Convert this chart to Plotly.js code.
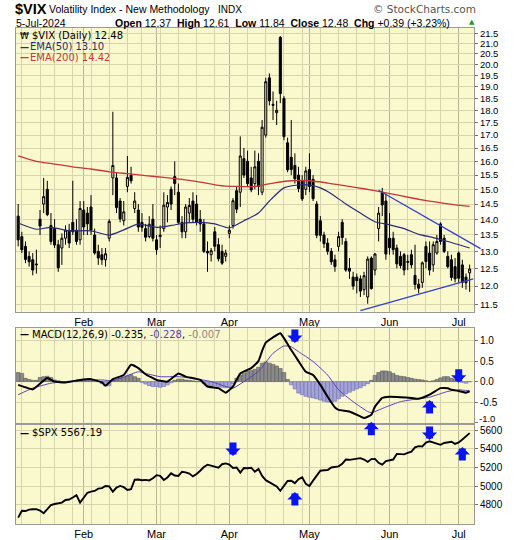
<!DOCTYPE html>
<html><head><meta charset="utf-8">
<script src="https://cdn.plot.ly/plotly-3.0.1.min.js"></script>
<style>html,body{margin:0;padding:0;background:#fff;}#chart{width:520px;height:540px;}</style>
</head><body><div id="chart"></div>
<script>
// ---------- DATA ----------
const dates = ['2024-01-05','2024-01-08','2024-01-09','2024-01-10','2024-01-11','2024-01-12','2024-01-16','2024-01-17','2024-01-18','2024-01-19',
'2024-01-22','2024-01-23','2024-01-24','2024-01-25','2024-01-26','2024-01-29','2024-01-30','2024-01-31','2024-02-01','2024-02-02',
'2024-02-05','2024-02-06','2024-02-07','2024-02-08','2024-02-09','2024-02-12','2024-02-13','2024-02-14','2024-02-15','2024-02-16',
'2024-02-20','2024-02-21','2024-02-22','2024-02-23','2024-02-26','2024-02-27','2024-02-28','2024-02-29','2024-03-01','2024-03-04',
'2024-03-05','2024-03-06','2024-03-07','2024-03-08','2024-03-11','2024-03-12','2024-03-13','2024-03-14','2024-03-15','2024-03-18',
'2024-03-19','2024-03-20','2024-03-21','2024-03-22','2024-03-25','2024-03-26','2024-03-27','2024-03-28','2024-04-01','2024-04-02',
'2024-04-03','2024-04-04','2024-04-05','2024-04-08','2024-04-09','2024-04-10','2024-04-11','2024-04-12','2024-04-15','2024-04-16',
'2024-04-17','2024-04-18','2024-04-19','2024-04-22','2024-04-23','2024-04-24','2024-04-25','2024-04-26','2024-04-29','2024-04-30',
'2024-05-01','2024-05-02','2024-05-03','2024-05-06','2024-05-07','2024-05-08','2024-05-09','2024-05-10','2024-05-13','2024-05-14',
'2024-05-15','2024-05-16','2024-05-17','2024-05-20','2024-05-21','2024-05-22','2024-05-23','2024-05-24','2024-05-28','2024-05-29',
'2024-05-30','2024-05-31','2024-06-03','2024-06-04','2024-06-05','2024-06-06','2024-06-07','2024-06-10','2024-06-11','2024-06-12',
'2024-06-13','2024-06-14','2024-06-17','2024-06-18','2024-06-20','2024-06-21','2024-06-24','2024-06-25','2024-06-26','2024-06-27',
'2024-06-28','2024-07-01','2024-07-02','2024-07-03','2024-07-05'];

const vixOpen = [14.10,13.45,13.15,12.85,12.75,12.60,14.00,14.50,15.00,13.80,
13.70,13.20,13.10,13.40,13.65,13.90,13.65,13.35,14.30,14.20,
14.40,13.50,13.00,12.90,12.75,13.40,15.40,15.40,14.60,13.95,
15.10,15.50,14.35,14.30,13.90,13.70,13.45,14.00,13.35,13.45,
13.70,14.40,15.00,15.45,14.90,13.90,13.60,14.20,14.60,14.50,
14.00,13.85,13.00,12.90,13.60,13.20,13.00,12.85,13.55,13.80,
14.95,14.90,16.10,16.00,15.40,15.20,16.00,14.90,17.00,19.40,
18.25,17.90,21.30,18.50,16.70,16.15,15.85,15.50,15.30,15.00,
15.70,15.35,14.50,13.95,13.50,13.25,13.00,12.75,13.15,13.90,
13.30,12.50,12.25,12.25,12.20,11.90,11.70,12.80,12.45,13.70,
14.90,14.60,13.40,13.40,13.10,12.85,12.90,12.70,12.90,12.30,
12.05,12.10,13.15,12.95,12.60,12.95,13.85,13.40,12.85,12.75,
12.55,12.95,12.60,12.25,12.37];
const vixHigh = [14.50,13.60,13.30,13.00,12.95,13.05,14.30,15.40,15.30,14.20,
14.00,13.35,13.55,13.80,13.85,15.30,14.00,14.60,14.60,14.40,
14.80,13.70,13.20,13.10,13.10,14.00,17.94,15.60,14.70,14.60,
16.20,15.80,14.90,14.50,14.20,13.85,14.10,14.50,13.50,13.80,
14.90,14.80,15.10,16.00,15.20,14.10,14.50,14.70,14.90,14.80,
14.30,14.00,13.30,13.10,13.75,13.40,13.20,13.05,13.80,14.70,
15.10,16.95,16.50,16.40,15.80,16.40,16.30,17.60,19.40,19.60,
18.80,18.40,21.36,18.60,16.90,17.60,16.30,15.80,15.50,15.80,
16.30,15.50,14.60,14.10,13.60,13.40,13.10,12.90,13.60,14.00,
13.40,12.80,12.40,12.35,12.30,12.40,12.85,12.85,12.95,14.40,
15.05,14.85,14.20,13.60,13.20,13.00,12.95,12.90,13.05,13.20,
12.20,12.70,13.30,13.30,13.30,13.50,13.90,13.50,13.00,12.90,
12.80,13.00,12.75,12.35,12.61];
const vixLow = [13.15,12.95,12.65,12.55,12.30,12.35,13.50,14.20,14.10,13.20,
13.10,12.40,12.60,13.20,13.10,13.50,13.20,13.20,13.50,13.50,
13.50,12.90,12.60,12.60,12.55,13.30,14.80,14.20,13.90,13.80,
14.90,15.20,14.20,13.60,13.60,13.30,13.40,13.30,12.90,13.10,
13.60,13.90,14.30,14.80,13.85,13.40,13.40,13.90,13.90,13.80,
13.60,12.95,12.40,12.70,13.00,12.70,12.60,12.70,13.40,13.70,
14.20,14.40,15.40,15.10,14.90,15.00,14.80,14.80,16.90,18.20,
17.60,17.40,18.30,16.80,15.60,15.50,15.20,14.90,14.60,14.80,
14.90,14.60,13.40,13.30,13.10,12.90,12.60,12.40,13.00,13.20,
12.40,12.20,11.90,11.80,11.70,11.75,11.52,11.90,12.30,13.30,
14.10,12.75,12.90,12.90,12.50,12.50,12.30,12.45,12.50,11.90,
11.80,11.95,12.50,12.30,12.40,12.90,13.20,12.95,12.50,12.15,
12.10,12.10,11.95,11.90,11.84];
const vixClose = [13.35,13.05,12.76,12.69,12.45,12.62,13.78,14.75,14.15,13.30,
13.19,12.52,13.40,13.65,13.25,13.60,13.30,14.35,13.75,13.85,
13.65,12.95,12.80,12.75,12.93,13.93,15.85,14.38,14.01,14.24,
15.42,15.30,14.60,13.75,13.74,13.43,13.84,13.40,13.05,13.49,
14.46,14.55,14.50,15.20,13.90,13.60,14.40,14.45,14.00,13.90,
13.85,13.00,12.95,13.02,13.15,12.78,12.65,12.95,13.65,14.61,
14.33,16.20,15.50,15.20,14.98,15.80,15.10,17.31,19.23,18.40,
18.21,18.00,18.71,16.94,15.69,15.70,15.37,15.03,14.67,15.65,
15.10,14.68,13.49,13.49,13.23,13.00,12.69,12.55,13.45,13.42,
12.45,12.42,12.00,12.15,11.86,12.29,12.77,11.93,12.92,14.20,
14.47,12.92,13.11,13.05,12.63,12.58,12.45,12.68,12.60,12.04,
11.94,12.66,12.70,12.45,13.20,13.30,13.30,13.00,12.55,12.24,
12.20,12.22,12.10,12.09,12.48];

const ema50Dates = ['2024-01-05','2024-01-12','2024-01-19','2024-01-26','2024-02-05','2024-02-12','2024-02-16','2024-02-23','2024-03-01','2024-03-07',
'2024-03-13','2024-03-19','2024-03-25','2024-04-01','2024-04-05','2024-04-11','2024-04-16','2024-04-22','2024-04-26','2024-05-01',
'2024-05-06','2024-05-09','2024-05-15','2024-05-21','2024-05-28','2024-06-03','2024-06-07','2024-06-13','2024-06-20','2024-06-26','2024-07-05'];
const ema50Vals = [13.88,13.68,13.74,13.63,13.63,13.50,13.66,13.84,13.74,13.80,
13.88,13.90,13.85,13.72,13.95,14.20,14.60,15.05,15.15,15.15,
15.05,14.85,14.50,14.20,13.92,13.82,13.70,13.52,13.42,13.30,13.10];

const ema200Dates = ['2024-01-05','2024-01-12','2024-01-22','2024-01-29','2024-02-05','2024-02-12','2024-02-20','2024-02-27','2024-03-05','2024-03-12',
'2024-03-19','2024-03-26','2024-04-03','2024-04-10','2024-04-17','2024-04-24','2024-05-01','2024-05-08','2024-05-15','2024-05-22',
'2024-05-30','2024-06-06','2024-06-13','2024-06-21','2024-06-28','2024-07-05'];
const ema200Vals = [16.20,16.00,15.90,15.80,15.72,15.62,15.55,15.48,15.42,15.35,
15.25,15.14,15.10,15.10,15.22,15.30,15.30,15.22,15.12,15.02,
14.90,14.78,14.66,14.56,14.47,14.42];

const macdDates = ['2024-01-05','2024-01-09','2024-01-11','2024-01-16','2024-01-18','2024-01-22','2024-01-25','2024-01-31','2024-02-05','2024-02-08',
'2024-02-09','2024-02-13','2024-02-16','2024-02-21','2024-02-23','2024-02-27','2024-03-01','2024-03-06','2024-03-11','2024-03-13',
'2024-03-19','2024-03-21','2024-03-26','2024-03-28','2024-04-02','2024-04-04','2024-04-09','2024-04-11','2024-04-12','2024-04-15',
'2024-04-17','2024-04-19','2024-04-22','2024-04-24','2024-04-26','2024-04-30','2024-05-02','2024-05-06','2024-05-08','2024-05-10',
'2024-05-13','2024-05-16','2024-05-21','2024-05-22','2024-05-24','2024-05-28','2024-05-30','2024-06-03','2024-06-06','2024-06-11',
'2024-06-13','2024-06-18','2024-06-24','2024-06-26','2024-06-27','2024-07-01','2024-07-03','2024-07-05'];
const macdVals = [-0.08,-0.14,-0.19,-0.05,0.09,0.00,-0.02,0.04,0.06,-0.02,
-0.10,0.06,0.16,0.41,0.33,0.18,0.04,0.00,0.20,0.12,
0.04,-0.12,-0.16,-0.27,-0.12,0.20,0.33,0.50,0.75,0.95,
1.08,1.18,1.06,0.77,0.50,0.24,0.16,-0.08,-0.37,-0.63,
-0.69,-0.73,-0.85,-0.89,-0.81,-0.61,-0.40,-0.37,-0.38,-0.40,
-0.42,-0.32,-0.16,-0.16,-0.20,-0.23,-0.27,-0.235];

const signalDates = ['2024-01-05','2024-01-11','2024-01-19','2024-01-25','2024-02-01','2024-02-08','2024-02-13','2024-02-16','2024-02-23','2024-02-27',
'2024-03-04','2024-03-11','2024-03-15','2024-03-22','2024-03-28','2024-04-02','2024-04-05','2024-04-11','2024-04-17','2024-04-22',
'2024-04-24','2024-04-26','2024-05-02','2024-05-08','2024-05-13','2024-05-17','2024-05-23','2024-05-24','2024-05-31','2024-06-06',
'2024-06-12','2024-06-18','2024-06-26','2024-07-01','2024-07-05'];
const signalVals = [-0.32,-0.16,-0.04,0.00,0.04,0.04,0.02,0.11,0.24,0.20,
0.12,0.12,0.08,0.00,-0.12,-0.16,0.00,0.25,0.69,0.87,
0.85,0.73,0.49,0.16,-0.20,-0.49,-0.73,-0.76,-0.62,-0.49,
-0.43,-0.38,-0.24,-0.20,-0.228];

const histVals = [0.22,0.20,0.08,0.05,0.03, 0.03,0.10,0.12,0.13,0.10,
0.04,0.02,0.00,-0.01,0.00,0.01,0.00,0.02, 0.02,0.02,0.03,0.02,0.00, -0.05,-0.10,-0.10,
0.03,0.06,0.08,0.10,0.14,0.17,0.12,0.08, -0.02,-0.06,-0.10,-0.12,-0.12,-0.14,-0.12,-0.08,
-0.03,0.03,0.06,0.06,0.04,0.03,0.02,0.00, 0.00,-0.05,-0.10,-0.10,-0.10,-0.12,-0.14,-0.15,-0.12,-0.05,
0.08,0.15,0.20,0.25,0.27,0.30,0.35,0.45,0.48,0.45,0.42,0.38,0.32,0.22,
0.05,-0.08,-0.18,-0.28,-0.32,-0.36,-0.38,-0.40,-0.42,-0.45,-0.48,-0.50,-0.50,-0.48,-0.42,-0.36,-0.30,-0.26,-0.22,-0.18,-0.15,-0.10,-0.05,
0.03,0.15,0.22,0.26,0.26,0.24,0.20,0.15,0.13,0.12,0.10,0.08,0.06,0.05,0.04,0.02,0.00,0.02,0.05,0.09,0.12,0.12,0.08,0.05,0.02,-0.02,-0.04,-0.007];

const spxClose = [4665,4739,4735,4750,4755,4755,4740,4712,4755,4800,
4810,4820,4825,4853,4858,4880,4905,4825,4880,4930,
4942,4950,4975,4980,5003,4998,4942,4985,5003,4990,
4960,4968,5070,5072,5064,5068,5062,5085,5118,5110,
5067,5094,5138,5115,5110,5155,5148,5135,5105,5130,
5165,5205,5230,5222,5210,5198,5235,5244,5232,5195,
5200,5145,5195,5192,5198,5155,5185,5110,5065,5040,
5015,4998,4952,5000,5056,5058,5033,5075,5095,5025,
5003,5060,5115,5166,5170,5172,5200,5208,5212,5240,
5285,5282,5288,5292,5300,5285,5260,5290,5292,5250,
5230,5268,5275,5285,5345,5345,5340,5355,5370,5415,
5428,5425,5466,5480,5466,5458,5442,5462,5470,5475,
5452,5468,5500,5530,5567];

const monthDates = ['2024-02-01','2024-03-01','2024-04-01','2024-05-01','2024-06-03','2024-07-01'];
const monthLabels = ['Feb','Mar','Apr','May','Jun','Jul'];
const weekDates = ['2024-01-08','2024-01-16','2024-01-22','2024-01-29','2024-02-05','2024-02-12','2024-02-20','2024-02-26','2024-03-04','2024-03-11',
'2024-03-18','2024-03-25','2024-04-08','2024-04-15','2024-04-22','2024-04-29','2024-05-06','2024-05-13','2024-05-20','2024-05-28',
'2024-06-10','2024-06-17','2024-06-24'];
const vixTicks = [11.5,12,12.5,13,13.5,14,14.5,15,15.5,16,16.5,17,17.5,18,18.5,19,19.5,20,20.5,21,21.5];
const macdTicks = [-0.5,0.0,0.5,1.0];
const macdBottomTick = -1.0;
const spxTicks = [4800,5000,5200,5400,5600];

// user-drawn trendlines (trading-day date, value); last upper point lies past the final bar
const trendUpperDates = ['2024-05-29','2024-07-10'];
const trendUpperVals = [14.97,13.08];
const trendLowerDates = ['2024-05-21','2024-07-08'];
const trendLowerVals = [11.34,12.20];

// signal arrows
const macdArrowDates = ['2024-04-25','2024-07-01','2024-06-18','2024-05-24'];
const macdArrowVals = [0.94,-0.03,-0.45,-0.98];
const macdArrowDirs = ['down','down','up','up'];
const spxArrowDates = ['2024-04-02','2024-04-25','2024-06-18','2024-07-02'];
const spxArrowVals = [5323,4939,5493,5419];
const spxArrowDirs = ['down','up','down','up'];

// ---------- BUILD ----------
const BG = '#FAF8CD', GRID = '#D8D5AE', MGRID = '#B8B69A', BORDER = '#9A9A9A';
const FONT = 'Liberation Sans, Arial, sans-serif';
const LFONT = 'DejaVu Sans, Verdana, sans-serif';
const XR = [-0.6, 125.2];
const VIXR = [Math.log10(11.31), Math.log10(21.765)];
function idxOf(d){
  const i = dates.indexOf(d);
  if(i >= 0) return i;
  let last = new Date(dates[dates.length-1]+'T00:00:00Z'), t = new Date(d+'T00:00:00Z'), n = dates.length-1;
  while(last < t){ last.setUTCDate(last.getUTCDate()+1); const wd = last.getUTCDay(); if(wd!==0 && wd!==6) n++; }
  return n;
}
const xIdx = dates.map((d,i)=>i);
const monthIdx = monthDates.map(idxOf);
const weekIdx = weekDates.map(idxOf);

const traces = [
  {type:'candlestick', x:xIdx, open:vixOpen, high:vixHigh, low:vixLow, close:vixClose, xaxis:'x', yaxis:'y',
   increasing:{line:{color:'#000',width:1}, fillcolor:'rgba(0,0,0,0)'},
   decreasing:{line:{color:'#000',width:1}, fillcolor:'#000'}, whiskerwidth:0, hoverinfo:'skip'},
  {type:'scatter', mode:'lines', x:ema200Dates.map(idxOf), y:ema200Vals, xaxis:'x', yaxis:'y', line:{color:'#C43A3A', width:1.3, shape:'spline', smoothing:0.6}, hoverinfo:'skip'},
  {type:'scatter', mode:'lines', x:ema50Dates.map(idxOf), y:ema50Vals, xaxis:'x', yaxis:'y', line:{color:'#2A2C78', width:1.2, shape:'spline', smoothing:0.6}, hoverinfo:'skip'},
  {type:'scatter', mode:'lines', x:trendLowerDates.map(idxOf), y:trendLowerVals, xaxis:'x', yaxis:'y', line:{color:'#3340CC', width:1.3}, hoverinfo:'skip'},
  {type:'bar', x:xIdx, y:histVals, xaxis:'x2', yaxis:'y2',
   marker:{color:histVals.map(v=>v>=0?'#8A8A8A':'#A3A3D6'), line:{color:histVals.map(v=>v>=0?'#5A5A5A':'#7272B4'), width:0.6}}, hoverinfo:'skip'},
  {type:'scatter', mode:'lines', x:signalDates.map(idxOf), y:signalVals, xaxis:'x2', yaxis:'y2', line:{color:'#5A40C0', width:1, shape:'spline', smoothing:0.5}, hoverinfo:'skip'},
  {type:'scatter', mode:'lines', x:macdDates.map(idxOf), y:macdVals, xaxis:'x2', yaxis:'y2', line:{color:'#000', width:2, shape:'spline', smoothing:0.4}, hoverinfo:'skip'},
  {type:'scatter', mode:'lines', x:xIdx, y:spxClose, xaxis:'x3', yaxis:'y3', line:{color:'#000', width:1.9}, hoverinfo:'skip'}
];

// upper trendline runs past the last bar over the price labels: draw it unclipped, placed through the axis scales
const xDom = v => (v - XR[0]) / (XR[1] - XR[0]);
const yDomLog = v => (Math.log10(v) - VIXR[0]) / (VIXR[1] - VIXR[0]);
const upX = trendUpperDates.map(idxOf);
const shapes = [{type:'line', xref:'x domain', yref:'y domain', x0:xDom(upX[0]), y0:yDomLog(trendUpperVals[0]),
  x1:xDom(upX[1]), y1:yDomLog(trendUpperVals[1]), line:{color:'#3340CC', width:1.3}, layer:'above'}];

const L=16, R=46, T=28, B=16, PW=520-L-R, PH=540-T-B;
const fx = px => (px-L)/PW, fy = py => (540-B-py)/PH;

const xBase = {range:XR, tickmode:'array', tickvals:monthIdx, ticktext:monthLabels,
  showgrid:true, gridcolor:MGRID, gridwidth:1, zeroline:false, showline:true, mirror:true, linecolor:BORDER, linewidth:1,
  ticks:'', tickfont:{family:FONT, size:11, color:'#000'}, fixedrange:true,
  minor:{tickmode:'array', tickvals:weekIdx, showgrid:true, gridcolor:GRID, gridwidth:1, ticks:''}};
const yBase = {side:'right', showgrid:true, gridcolor:GRID, gridwidth:1, zeroline:false, showline:true, mirror:true,
  linecolor:BORDER, linewidth:1, ticks:'outside', ticklen:3, tickcolor:'#777', tickfont:{family:FONT, size:10, color:'#000'}, fixedrange:true};

const anns = [];
function txt(px, py, text, size, opts){
  anns.push(Object.assign({xref:'paper', yref:'paper', x:fx(px), y:fy(py), xanchor:'left', yanchor:'middle', showarrow:false,
    text:text, font:{family:FONT, size:size, color:'#000'}, borderpad:0}, opts||{}));
}
// header
txt(14, 9, '<b>$VIX</b>', 14.5);
txt(48, 9.5, 'Volatility Index - New Methodology', 10.5);
txt(217, 9.5, 'INDX', 10);
txt(477, 9.5, '\u00A9 StockCharts.com', 11, {xanchor:'right', font:{family:'DejaVu Sans, sans-serif', size:10.5, color:'#555'}});
txt(15, 22.5, '5-Jul-2024', 10.5);
txt(114, 22.5, '<b>Open</b> 12.37  <b>High</b> 12.61  <b>Low</b> 11.84  <b>Close</b> 12.48  <b>Chg</b> +0.39 (+3.23%)', 10.5);
txt(468, 22, '\u25B2', 7, {font:{family:LFONT, size:7, color:'#1a9a1a'}});
// main legend
txt(19, 36, '\u20A9', 9, {font:{family:LFONT, size:9, color:'#000'}});
txt(31, 36, '$VIX (Daily) 12.48', 10, {font:{family:LFONT, size:10, color:'#000'}});
txt(19, 46.5, '<b>\u2014</b>', 9, {font:{family:LFONT, size:9, color:'#2A2C78'}});
txt(29, 46.5, 'EMA(50) 13.10', 10, {font:{family:LFONT, size:10, color:'#2A2C78'}});
txt(19, 57, '<b>\u2014</b>', 9, {font:{family:LFONT, size:9, color:'#C43A3A'}});
txt(29, 57, 'EMA(200) 14.42', 10, {font:{family:LFONT, size:10, color:'#C43A3A'}});
// MACD legend
txt(19, 334, '<b>\u2014</b>', 9, {font:{family:LFONT, size:9, color:'#000'}});
txt(31, 334, 'MACD(12,26,9) -0.235, <span style="color:#5A40C0">-0.228</span>, <span style="color:#8a8a8a">-0.007</span>', 10, {font:{family:LFONT, size:10, color:'#000'}});
// SPX legend
txt(19, 432.5, '<b>\u2014</b>', 9, {font:{family:LFONT, size:9, color:'#000'}});
txt(31, 432.5, '$SPX 5567.19', 10, {font:{family:LFONT, size:10, color:'#000'}});
// MACD bottom tick label, nudged up so it sits clear of the $SPX top label
anns.push({xref:'paper', yref:'y2', x:1, y:macdBottomTick, xanchor:'left', yanchor:'middle', xshift:4, yshift:4, showarrow:false,
  text:macdBottomTick.toFixed(1), font:{family:FONT, size:9.5, color:'#000'}, borderpad:0});

// arrows
function arrows(ds, vs, dirs, xr, yr){
  ds.forEach((d,i)=>{
    anns.push({xref:xr, yref:yr, x:idxOf(d), y:vs[i], ax:0, ay:dirs[i]==='down'?-15:15, axref:'pixel', ayref:'pixel',
      showarrow:true, arrowhead:1, arrowsize:0.36, arrowwidth:7, arrowcolor:'#0A14F0', standoff:0, text:''});
  });
}
arrows(macdArrowDates, macdArrowVals, macdArrowDirs, 'x2', 'y2');
arrows(spxArrowDates, spxArrowVals, spxArrowDirs, 'x3', 'y3');

const layout = {
  width:520, height:540, margin:{l:L, r:R, t:T, b:B, pad:0},
  paper_bgcolor:'#ffffff', plot_bgcolor:BG, showlegend:false, boxgap:0.2, bargap:0,
  xaxis: Object.assign({}, xBase, {anchor:'y', domain:[0,1], rangeslider:{visible:false}}),
  yaxis: Object.assign({}, yBase, {domain:[fy(311.7), 1], type:'log', range:VIXR,
    tickmode:'array', tickvals:vixTicks, ticktext:vixTicks.map(v=>v.toFixed(1)), tickfont:{family:FONT, size:9.5, color:'#000'}}),
  xaxis2: Object.assign({}, xBase, {anchor:'y2', matches:'x', showticklabels:false, rangeslider:{visible:false}}),
  yaxis2: Object.assign({}, yBase, {domain:[fy(423), fy(328.3)], range:[-1.01,1.30], tickmode:'array', tickvals:macdTicks.concat([macdBottomTick]), ticktext:macdTicks.map(v=>v.toFixed(1)).concat([''])}),
  xaxis3: Object.assign({}, xBase, {anchor:'y3', matches:'x', rangeslider:{visible:false}}),
  yaxis3: Object.assign({}, yBase, {domain:[0, fy(424.5)], range:[4597,5659], tickmode:'array', tickvals:spxTicks, ticktext:spxTicks.map(String)}),
  shapes: shapes,
  annotations: anns
};
Plotly.newPlot('chart', traces, layout, {staticPlot:true, displayModeBar:false});
</script></body></html>
